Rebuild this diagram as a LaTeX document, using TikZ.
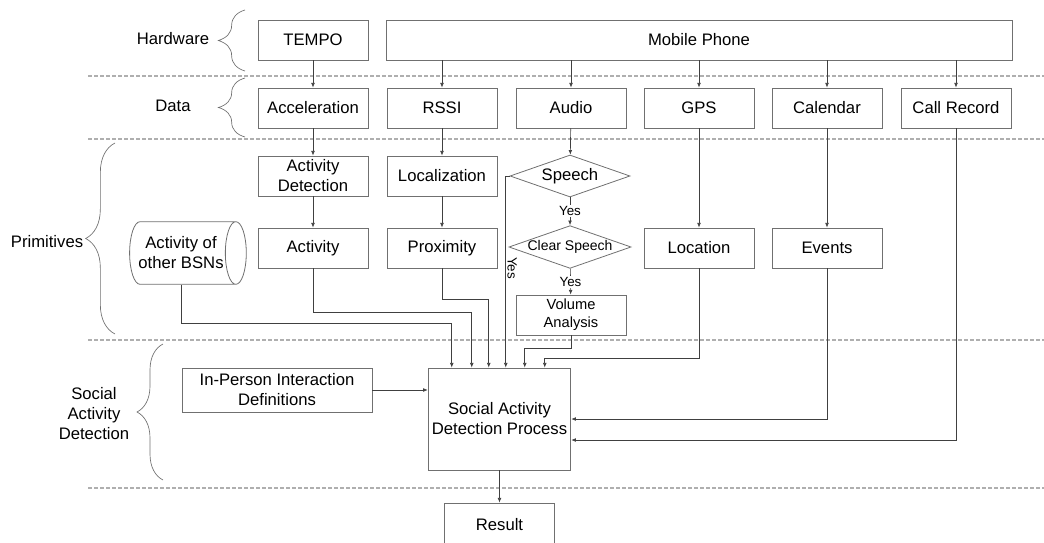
\documentclass[tikz,border=0pt]{standalone}
\usepackage{fontspec}
\setmainfont{Liberation Sans}
\usetikzlibrary{positioning}
\usetikzlibrary{calc}
\usetikzlibrary{shapes.geometric}
\usetikzlibrary{arrows.meta}
\usetikzlibrary{decorations.pathreplacing}

\definecolor{boxgray}{RGB}{112,112,112}
\definecolor{sepgray}{RGB}{175,175,175}
\tikzset{
  blk/.style={draw=boxgray, line width=0.6pt, minimum width=82.5pt, minimum height=30pt,
              align=center, inner sep=1pt, font=\fontsize{12.5}{15}\selectfont},
  dec/.style={draw=boxgray, line width=0.6pt, diamond, aspect=2.86,
              minimum width=90pt, minimum height=31.5pt, inner sep=0pt},
  arr/.style={draw=black!75, line width=0.5pt, -{Latex[length=3.5pt,width=2.8pt]}},
  sep/.style={draw=sepgray, line width=0.8pt, dash pattern=on 3pt off 1.5pt},
  brc/.style={draw=boxgray, line width=0.5pt, decorate},
  lbl/.style={font=\fontsize{12.5}{15}\selectfont, align=center},
  yes/.style={font=\fontsize{10}{12}\selectfont, inner sep=1pt},
}

\begin{document}
\begin{tikzpicture}[x=0.75pt, y=-0.75pt]
  \useasboundingbox (0,0) rectangle (1044,542);

  % Layer separators
  \foreach \ly in {76,139,340,488}
    \draw[sep] (88,\ly) -- (1044,\ly);

  % Layer braces and titles
  \draw[brc, decoration={brace, amplitude=20pt}] (245,71) -- (245,10);
  \node[lbl] (hwlbl) at (173,39) {Hardware};
  \draw[brc, decoration={brace, amplitude=20pt}] (245,137) -- (245,78);
  \node[lbl] (datalbl) at (173,106) {Data};
  \draw[brc, decoration={brace, amplitude=22pt}] (115,334) -- (115,143);
  \node[lbl] (primlbl) at (47,242) {Primitives};
  \draw[brc, decoration={brace, amplitude=19.5pt}] (163,480) -- (163,344);
  \node[lbl] (soclbl) at (94,414) {Social\\Activity\\Detection};

  % Hardware
  \node[blk] (tempo) at (313,40) {TEMPO};
  \node[blk, minimum width=469.5pt] (phone) at (699,40) {Mobile Phone};

  % Data
  \node[blk] (accel) at (313,108) {Acceleration};
  \node[blk] (rssi)  at (442,108) {RSSI};
  \node[blk] (audio) at (571,108) {Audio};
  \node[blk] (gps)   at (699,108) {GPS};
  \node[blk] (cal)   at (827,108) {Calendar};
  \node[blk] (call)  at (956,108) {Call Record};

  % Primitives
  \node[blk] (actdet) at (313,176) {Activity\\Detection};
  \node[blk] (loc)    at (442,176) {Localization};
  \node[dec, font=\fontsize{12.5}{15}\selectfont] (speech) at (570,176) {Speech};
  \node[dec, font=\fontsize{10.5}{12}\selectfont] (clear) at (570,247) {Clear Speech};
  \node[blk, font=\fontsize{11}{13.5}\selectfont] (vol) at (571,315) {Volume\\Analysis};
  \node[blk] (activity) at (313,248) {Activity};
  \node[blk] (prox)     at (442,248) {Proximity};
  \node[blk] (location) at (699,248) {Location};
  \node[blk] (events)   at (827,248) {Events};
  \node[draw=boxgray, line width=0.6pt, cylinder, aspect=0.6, minimum width=47pt,
        minimum height=85pt, align=center, inner sep=1pt,
        font=\fontsize{12.5}{15}\selectfont] (bsn) at (181,253) {Activity of\\other BSNs};

  % Social activity detection
  \node[blk, minimum width=142.5pt, minimum height=33pt] (inperson) at (277,390)
    {In-Person Interaction\\Definitions};
  \node[blk, minimum width=107pt, minimum height=76.5pt] (sadp) at (499.5,419)
    {Social Activity\\Detection Process};
  \node[blk, minimum width=82pt, minimum height=33pt] (result) at (499.5,525) {Result};

  % Entry points on the process box
  \coordinate (in1) at ($(sadp.north west)+(24,0)$);
  \coordinate (in2) at ($(sadp.north west)+(44,0)$);
  \coordinate (in3) at ($(sadp.north west)+(61,0)$);
  \coordinate (in4) at ($(sadp.north west)+(78,0)$);
  \coordinate (in5) at ($(sadp.north west)+(97,0)$);
  \coordinate (in6) at ($(sadp.north west)+(117,0)$);

  % Hardware to data
  \draw[arr] (tempo) -- (accel);
  \foreach \dn in {rssi,audio,gps,cal,call}
    \draw[arr] (\dn.north |- phone.south) -- (\dn);

  % Data to primitives
  \draw[arr] (accel) -- (actdet);
  \draw[arr] (actdet) -- (activity);
  \draw[arr] (rssi) -- (loc);
  \draw[arr] (loc) -- (prox);
  \draw[arr] (audio) -- (speech);
  \draw[arr] (speech) -- node[yes, fill=white] {Yes} (clear);
  \draw[arr] (clear) -- node[yes, fill=white] {Yes} (vol);
  \draw[arr] (gps) -- (location);
  \draw[arr] (cal) -- (events);

  % Primitives to detection
  \draw[arr] (bsn.south) -- ++(0,39) -| (in1);
  \draw[arr] (activity.south) -- ++(0,44) -| (in2);
  \draw[arr] (prox.south) -- ++(0,31) -| (in3);
  \draw[arr] (speech.west) -| node[pos=0.74, yes, rotate=-90, anchor=south] {Yes} (in4);
  \draw[arr] (vol.south) -- ++(0,13) -| (in5);
  \draw[arr] (location.south) -- ++(0,90) -| (in6);
  \draw[arr] (events.south) |- (sadp.east);
  \draw[arr] (call.south) |- ($(sadp.east)+(0,21)$);
  \draw[arr] (inperson.east) -- (inperson.east -| sadp.west);
  \draw[arr] (sadp) -- (result);
\end{tikzpicture}
\end{document}
